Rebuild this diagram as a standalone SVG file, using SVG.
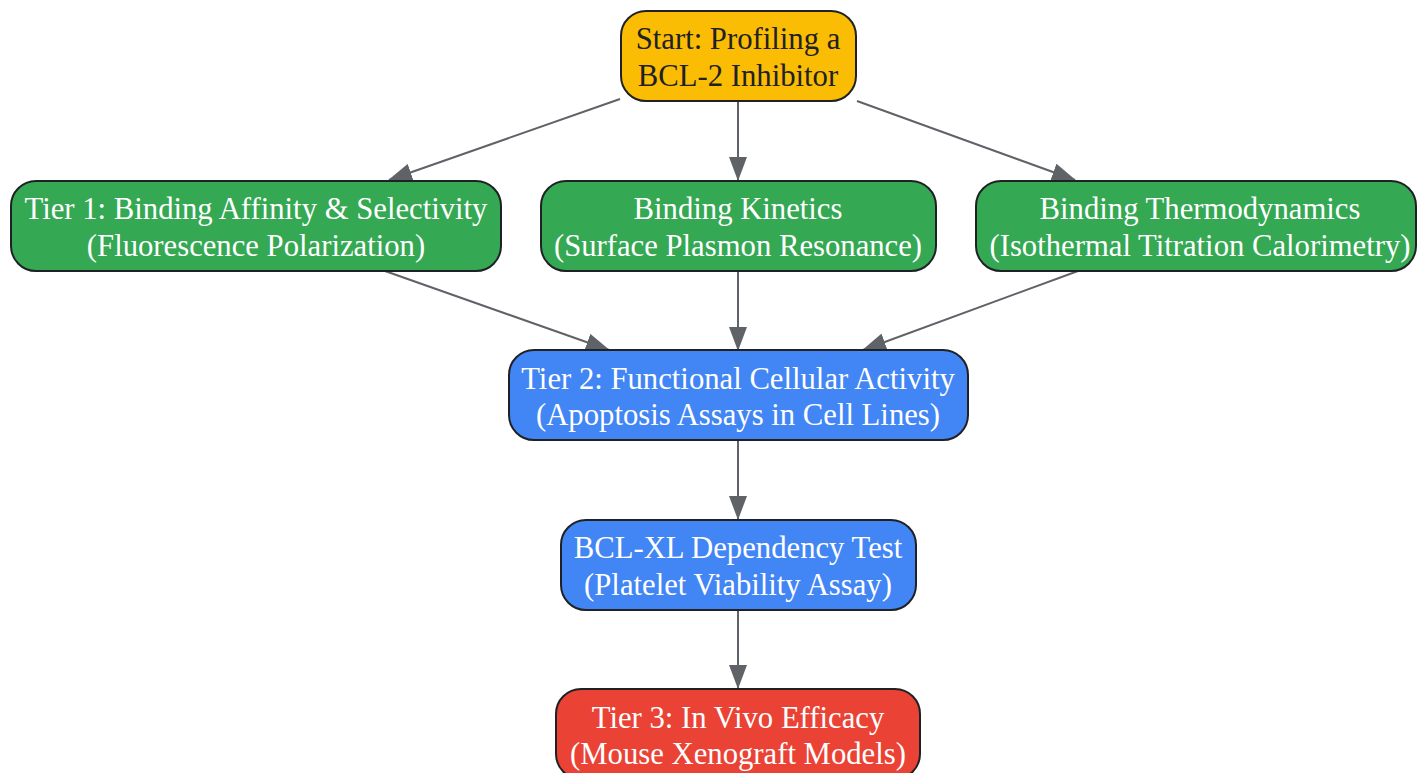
<svg xmlns="http://www.w3.org/2000/svg" width="1417" height="773" viewBox="0 0 1417 773">
<style>
.n{stroke:#202124;stroke-width:2}
.t{font-family:"Liberation Serif","Times New Roman",serif;font-size:30.7px;text-anchor:middle;fill:#ffffff}
.d{fill:#202124}
.e{stroke:#5f6368;stroke-width:2;fill:none;marker-end:url(#a)}
</style>
<defs>
<marker id="a" viewBox="0 0 24 18" refX="23" refY="9" markerWidth="24" markerHeight="18" markerUnits="userSpaceOnUse" orient="auto">
<path d="M0,0 L24,9 L0,18 z" fill="#5f6368"/>
</marker>
</defs>
<rect width="1417" height="773" fill="#ffffff"/>
<g id="edges">
<path d="M620,99 L389,180" class="e"/>
<path d="M738,101 L738,180" class="e"/>
<path d="M857,101 L1075,180" class="e"/>
<path d="M385,271 L609,350" class="e"/>
<path d="M738,271 L738,350" class="e"/>
<path d="M1078,271 L863,350" class="e"/>
<path d="M738,440 L738,519" class="e"/>
<path d="M738,610 L738,688" class="e"/>
</g>
<g id="start">
<rect class="n" x="621" y="11" width="235" height="90" rx="25" fill="#FBBC04"/>
<text class="t d" x="738" y="49">Start: Profiling a</text>
<text class="t d" x="738" y="86">BCL-2 Inhibitor</text>
</g>
<g id="tier1">
<rect class="n" x="11" y="181" width="490" height="90" rx="25" fill="#34A853"/>
<text class="t" x="256" y="219">Tier 1: Binding Affinity &amp; Selectivity</text>
<text class="t" x="256" y="256">(Fluorescence Polarization)</text>
</g>
<g id="kinetics">
<rect class="n" x="541" y="181" width="395" height="90" rx="25" fill="#34A853"/>
<text class="t" x="738" y="219">Binding Kinetics</text>
<text class="t" x="738" y="256">(Surface Plasmon Resonance)</text>
</g>
<g id="thermo">
<rect class="n" x="976" y="181" width="440" height="90" rx="25" fill="#34A853"/>
<text class="t" x="1200" y="219">Binding Thermodynamics</text>
<text class="t" x="1200" y="256">(Isothermal Titration Calorimetry)</text>
</g>
<g id="tier2">
<rect class="n" x="509" y="350" width="459" height="90" rx="25" fill="#4285F4"/>
<text class="t" x="738" y="389">Tier 2: Functional Cellular Activity</text>
<text class="t" x="738" y="425">(Apoptosis Assays in Cell Lines)</text>
</g>
<g id="bclxl">
<rect class="n" x="561" y="520" width="355" height="90" rx="25" fill="#4285F4"/>
<text class="t" x="738" y="558">BCL-XL Dependency Test</text>
<text class="t" x="738" y="595">(Platelet Viability Assay)</text>
</g>
<g id="tier3">
<rect class="n" x="556" y="689" width="364" height="90" rx="25" fill="#EA4335"/>
<text class="t" x="738" y="728">Tier 3: In Vivo Efficacy</text>
<text class="t" x="738" y="764">(Mouse Xenograft Models)</text>
</g>
</svg>
